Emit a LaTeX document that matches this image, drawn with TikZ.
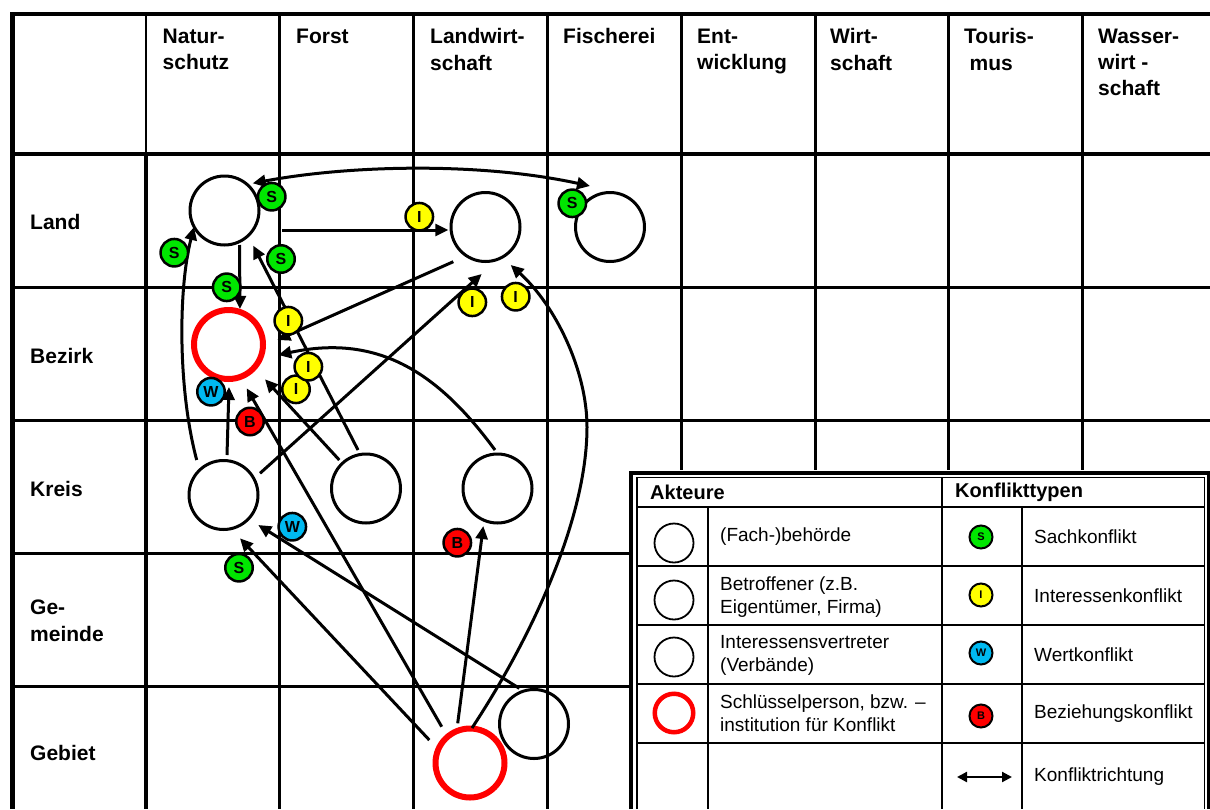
\documentclass[tikz,border=0pt]{standalone}
\usepackage{fontspec}
\setmainfont{Liberation Sans}
\usetikzlibrary{arrows.meta,calc}
\definecolor{kgreen}{RGB}{0,230,0}
\definecolor{kyellow}{RGB}{255,255,0}
\definecolor{kblue}{RGB}{0,185,240}
\definecolor{kred}{RGB}{255,0,0}

\begin{document}
\begin{tikzpicture}[x=1pt,y=-1pt,
  gridline/.style={line width=3pt},
  legline/.style={line width=1.3pt},
  hdr/.style={anchor=north west,align=left,inner sep=0pt,font=\fontsize{21}{26.4}\selectfont\bfseries},
  rowlab/.style={anchor=base west,inner sep=0pt,font=\fontsize{21}{26.4}\selectfont\bfseries},
  actor/.style={circle,draw=black,line width=3pt,minimum size=69pt,inner sep=0pt},
  keyactor/.style={actor,draw=kred,line width=6pt},
  badge/.style={circle,draw=black,line width=2.5pt,minimum size=27.5pt,inner sep=0pt,font=\fontsize{16}{16}\selectfont\bfseries},
  sb/.style={badge,fill=kgreen},
  ib/.style={badge,fill=kyellow},
  wb/.style={badge,fill=kblue},
  bb/.style={badge,fill=kred},
  conn/.style={line width=3pt,-{Triangle[length=13pt,width=12pt]}},
  conntwo/.style={line width=3pt,{Triangle[length=13pt,width=12pt]}-{Triangle[length=13pt,width=12pt]}},
  lhead/.style={anchor=west,inner sep=0pt,font=\fontsize{20}{24}\selectfont\bfseries},
  ltext/.style={anchor=west,align=left,inner sep=0pt,font=\fontsize{19}{22.5}\selectfont},
  lactor/.style={circle,draw=black,line width=1.8pt,minimum size=39pt,inner sep=0pt},
  lkey/.style={circle,draw=kred,line width=4.5pt,minimum size=38.5pt,inner sep=0pt},
  lbadge/.style={circle,draw=black,line width=2pt,minimum size=23pt,inner sep=0pt,font=\fontsize{11}{11}\selectfont\bfseries},
  lconn/.style={line width=2.2pt,{Triangle[length=10pt,width=10pt]}-{Triangle[length=10pt,width=10pt]}}
]
\useasboundingbox (0,0) rectangle (1210,809);

% ---------- table grid ----------
\draw[line width=2pt] (146,14) -- (146,154);
\foreach \x in {279,413,547,681,815,948,1082} \draw[gridline] (\x,14) -- (\x,809);
\draw[line width=4pt] (146,154) -- (146,809);
\foreach \y in {287,420,553,686} \draw[gridline] (10,\y) -- (1210,\y);
\draw[line width=3.2pt] (10,154) -- (1210,154);
\draw[line width=4pt] (10,14) -- (1210,14);
\draw[line width=5pt] (12,12) -- (12,809);

% ---------- column headings ----------
\node[hdr] (hnat) at (162.5,28.5) {Natur-\\schutz};
\node[hdr] (hfor) at (296,28.5) {Forst};
\node[hdr] (hlw)  at (430,28.5) {Landwirt-\\schaft};
\node[hdr] (hfi)  at (563,28.5) {Fischerei};
\node[hdr] (hent) at (697,28.5) {Ent-\\wicklung};
\node[hdr] (hwi)  at (830,28.5) {Wirt-\\schaft};
\node[hdr] (hto)  at (964,28.5) {Touris-\\\hspace*{5.5pt}mus};
\node[hdr] (hwa)  at (1098,28.5) {Wasser-\\wirt -\\schaft};

% ---------- row headings ----------
\node[rowlab] (rland) at (30,229.5) {Land};
\node[rowlab] (rbez)  at (30,363) {Bezirk};
\node[rowlab] (rkr)   at (30,496.5) {Kreis};
\node[hdr]    (rgem)  at (30,600) {Ge-\\meinde};
\node[rowlab] (rgeb)  at (30,760.5) {Gebiet};

% ---------- actors ----------
\node[actor]    (lnat) at (224.5,210.5) {};
\node[actor]    (llw)  at (485.5,227) {};
\node[actor]    (lfi)  at (610,227) {};
\node[keyactor] (bnat) at (228.5,344.5) {};
\node[actor]    (knat) at (223.5,495) {};
\node[actor]    (kfo)  at (366,488.5) {};
\node[actor]    (klw)  at (497.5,488.5) {};
\node[keyactor] (gred) at (470,763) {};
\node[actor]    (gblk) at (534,724) {};

% ---------- conflicts ----------
\draw[conntwo] ($(lnat)+(28.2,-27.2)$) .. controls (350,165) and (480,162) .. ($(lfi)+(-20,-41)$);
\draw[conn] ($(lnat)+(57.5,19.5)$) -- ($(llw)+(-37.2,3)$);
\draw[conn] ($(lnat)+(15,34.5)$) -- ($(bnat)+(11.5,-35.5)$);
\draw[conn] ($(kfo)+(-8,-38.5)$) -- ($(lnat)+(28.8,35.2)$);
\draw[conn] ($(llw)+(-32.2,34.7)$) -- ($(bnat)+(48.8,-4.5)$);
\draw[conn] ($(klw)+(-2.5,-38.5)$) .. controls (440,375) and (380,333) .. ($(bnat)+(49.8,10.5)$);
\draw[conn] ($(knat)+(36.5,-21.7)$) -- ($(llw)+(-3.8,47)$);
\draw[conn] ($(gred)+(2,-35)$) .. controls (530,640) and (587,520) .. (587,427)
  .. controls (587,370) and (555,305) .. ($(llw)+(25.2,38)$);
\draw[conn] ($(knat)+(-26.8,-35)$) .. controls (178,390) and (178,290) .. ($(lnat)+(-30.5,16.5)$);
\draw[conn] ($(knat)+(3.5,-40)$) -- ($(bnat)+(0.5,42.5)$);
\draw[conn] ($(gred)+(-28.3,-36.3)$) -- ($(bnat)+(18.2,43.8)$);
\draw[conn] ($(kfo)+(-26.7,-28.5)$) -- ($(bnat)+(36.5,34.8)$);
\draw[conn] ($(gred)+(-40.7,-23)$) -- ($(knat)+(16.5,43.3)$);
\draw[conn] ($(gblk)+(-14.7,-35.7)$) -- ($(knat)+(34.8,30)$);
\draw[conn] ($(gred)+(-12.3,-39.7)$) -- ($(klw)+(-14.2,37.5)$);

% ---------- conflict type markers ----------
\node[sb] (s1) at (271.7,196.7) {S};
\node[sb] (s2) at (174.3,252.7) {S};
\node[sb] (s3) at (281,259) {S};
\node[sb] (s4) at (226.7,287.3) {S};
\node[sb] (s5) at (572.3,203.3) {S};
\node[sb] (s6) at (239,567.7) {S};
\node[ib] (i1) at (419.3,216.7) {I};
\node[ib] (i2) at (472.3,302.3) {I};
\node[ib] (i3) at (515.7,296.7) {I};
\node[ib] (i4) at (288.3,320.7) {I};
\node[ib] (i6) at (296,389.3) {I};
\node[ib] (i5) at (308.3,366.7) {I};
\node[wb] (w1) at (211,391.7) {W};
\node[wb] (w2) at (292.3,526.7) {W};
\node[bb] (b1) at (250,421.5) {B};
\node[bb] (b2) at (457.3,542.7) {B};

% ---------- legend ----------
\fill[white] (629,470) rectangle (1210,809);
\draw[line width=4pt] (631,809) -- (631,472.5) -- (1208.5,472.5) -- (1208.5,809);
\draw[legline] (637,809) -- (637,477.5) -- (1204.5,477.5) -- (1204.5,809);
\foreach \y in {507,566,625,684,743} \draw[legline] (637,\y) -- (1204.5,\y);
\draw[legline] (942,477.5) -- (942,809);
\draw[legline] (708,507) -- (708,809);
\draw[legline] (1022,507) -- (1022,809);

\node[lhead] (lakt) at (650,492) {Akteure};
\node[lhead] (lkt)  at (955,492) {Konflikttypen};

\node[lactor] (la1) at (674,543) {};
\node[lactor] (la2) at (674,600) {};
\node[lactor] (la3) at (674,657) {};
\node[lkey]   (la4) at (674,713) {};
\node[ltext] (lt1) at (720,537) {(Fach-)behörde};
\node[ltext] (lt2) at (720,597) {Betroffener (z.B.\\Eigentümer, Firma)};
\node[ltext] (lt3) at (720,655.5) {Interessensvertreter\\(Verbände)};
\node[ltext] (lt4) at (720,713) {Schlüsselperson, bzw. –\\institution für Konflikt};

\node[lbadge,fill=kgreen]  (lb1) at (981,537) {S};
\node[lbadge,fill=kyellow] (lb2) at (981,595) {I};
\node[lbadge,fill=kblue]   (lb3) at (981,653) {W};
\node[lbadge,fill=kred]    (lb4) at (981,716) {B};
\coordinate (lda) at (957,777);
\coordinate (ldb) at (1012,777);
\draw[lconn] (lda) -- (ldb);

\node[ltext] (lk1) at (1034,537) {Sachkonflikt};
\node[ltext] (lk2) at (1034,596) {Interessenkonflikt};
\node[ltext] (lk3) at (1034,655) {Wertkonflikt};
\node[ltext] (lk4) at (1034,714) {Beziehungskonflikt};
\node[ltext] (lk5) at (1034,777) {Konfliktrichtung};
\end{tikzpicture}
\end{document}
